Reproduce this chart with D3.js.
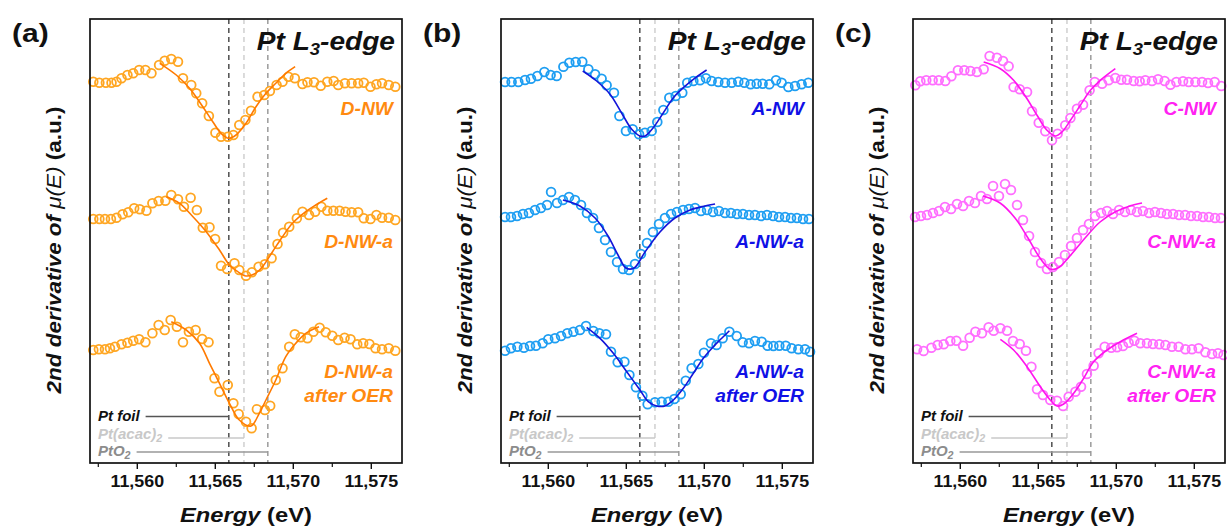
<!DOCTYPE html>
<html>
<head>
<meta charset="utf-8">
<script src="https://cdn.jsdelivr.net/npm/d3@7"></script>
<style>
  body { margin: 0; background: #fff; }
  svg text { font-family: "Liberation Sans", Arial, sans-serif; }
</style>
</head>
<body>
<div id="chart"></div>
<script>
// ---- data (energy in eV, 2nd derivative in a.u.) ----
const panelLetters = ['(a)', '(b)', '(c)'];
const sampleNames = [
  [['D-NW'], ['D-NW-a'], ['D-NW-a', 'after OER']],
  [['A-NW'], ['A-NW-a'], ['A-NW-a', 'after OER']],
  [['C-NW'], ['C-NW-a'], ['C-NW-a', 'after OER']]
];
const xTicks = [11560, 11565, 11570, 11575];
const xMinorTicks = [11557.5, 11562.5, 11567.5, 11572.5];
const refNames = ['Pt foil', 'Pt(acac)2', 'PtO2'];
const refEdges = [11565.9, 11566.87, 11568.4];
const curveOffsets = [38.1, 24.4, 11.3];

const dNW = [[11557.21,0.03],[11557.60,-0.07],[11558.02,-0.07],[11558.38,-0.07],[11558.70,0.03],[11559.02,0.37],[11559.40,0.70],[11559.77,0.87],[11560.15,1.20],[11560.55,1.20],[11560.94,0.87],[11561.43,1.70],[11561.79,2.13],[11562.21,2.30],[11562.64,2.03],[11562.96,0.37],[11563.49,-0.30],[11563.81,-1.13],[11564.19,-2.13],[11564.62,-3.40],[11565.04,-5.07],[11565.40,-5.47],[11565.83,-5.47],[11566.19,-5.30],[11566.57,-4.30],[11566.96,-3.80],[11567.32,-2.87],[11567.74,-1.47],[11568.17,-1.30],[11568.53,-0.90],[11568.96,-0.30],[11569.34,0.03],[11569.72,0.53],[11570.13,0.37],[11570.62,-0.20],[11570.94,-0.03],[11571.36,-0.03],[11571.79,-0.37],[11572.21,0.03],[11572.62,0.10],[11572.91,-0.30],[11573.34,-0.13],[11573.77,-0.13],[11574.19,-0.13],[11574.55,-0.07],[11574.98,-0.47],[11575.36,-0.23],[11575.72,-0.13],[11576.15,-0.30],[11576.57,-0.47]];
const dNWfit = [[11561.47,1.87],[11562.53,0.70],[11563.38,-0.63],[11564.23,-2.47],[11564.87,-3.97],[11565.40,-5.13],[11565.89,-5.63],[11566.36,-5.30],[11567.00,-4.13],[11567.64,-2.47],[11568.28,-1.13],[11568.91,-0.13],[11569.55,0.87],[11570.15,1.53]];

const dNWa = [[11557.21,0],[11557.60,0],[11557.96,0],[11558.34,0],[11558.70,0.13],[11559.09,0.47],[11559.45,0.67],[11559.83,1.07],[11560.19,0.97],[11560.62,0.83],[11561.00,1.57],[11561.40,1.80],[11561.83,1.83],[11562.21,2.40],[11562.64,1.97],[11563.02,1.23],[11563.45,2.13],[11563.85,0.90],[11564.23,-0.87],[11564.66,-0.83],[11565.02,-2.00],[11565.40,-4.67],[11565.79,-5.00],[11566.26,-4.43],[11566.57,-5.10],[11567.00,-5.67],[11567.38,-5.33],[11567.81,-4.77],[11568.21,-4.53],[11568.64,-3.93],[11569.02,-2.50],[11569.38,-1.37],[11569.77,-0.77],[11570.26,0.07],[11570.62,0.73],[11571.04,0.40],[11571.43,0.73],[11571.83,1.23],[11572.21,0.83],[11572.60,0.83],[11573.00,0.83],[11573.38,0.73],[11573.77,0.67],[11574.19,0.67],[11574.55,0.07],[11574.98,0],[11575.36,0.40],[11575.72,0.13],[11576.15,0.13],[11576.57,-0.10]];
const dNWaFit = [[11561.89,2.23],[11562.74,1.57],[11563.60,0.23],[11564.45,-1.27],[11565.30,-3.10],[11565.94,-4.60],[11566.47,-5.27],[11567.00,-5.70],[11567.53,-5.50],[11568.06,-4.77],[11568.70,-3.27],[11569.34,-1.77],[11569.98,-0.43],[11570.83,0.73],[11571.47,1.40],[11572.21,2.07]];

const dNWaOER = [[11557.21,0],[11557.57,0.07],[11557.96,0.07],[11558.28,0.17],[11558.60,0.33],[11559.02,0.57],[11559.40,0.73],[11559.77,0.93],[11560.15,1.07],[11560.55,0.77],[11561.00,1.67],[11561.40,2.50],[11561.79,2.00],[11562.17,3.00],[11562.57,2.33],[11562.96,0.77],[11563.34,1.83],[11563.77,2.00],[11564.19,1.10],[11564.60,0.77],[11564.98,-2.83],[11565.30,-4.17],[11565.83,-3.50],[11566.19,-5.33],[11566.53,-6.40],[11567.00,-7.17],[11567.36,-7.83],[11567.70,-5.93],[11568.21,-6.00],[11568.55,-5.57],[11568.91,-3.00],[11569.34,-1.83],[11569.77,0.33],[11570.13,1.57],[11570.51,1.27],[11570.94,1.17],[11571.32,1.83],[11571.72,2.23],[11572.11,1.77],[11572.53,1.43],[11572.91,1.00],[11573.32,1.23],[11573.70,1.07],[11574.13,0.57],[11574.51,0.67],[11574.91,0.60],[11575.30,0.17],[11575.72,0.07],[11576.15,0.17],[11576.57,-0.07]];
const dNWaOERfit = [[11562.21,2.83],[11563.17,2.00],[11564.02,0.67],[11564.66,-1.33],[11565.30,-3.33],[11565.94,-5.33],[11566.57,-7.00],[11567.32,-7.60],[11567.85,-6.33],[11568.28,-5.00],[11568.91,-3.00],[11569.55,-0.67],[11570.19,0.67],[11570.83,1.67],[11571.68,2.33]];

const aNW = [[11557.26,0],[11557.68,0],[11558.11,0],[11558.54,0.20],[11558.92,0.33],[11559.33,0.60],[11559.78,1.00],[11560.18,0.70],[11560.57,0.60],[11561.00,1.53],[11561.38,1.93],[11561.79,2.00],[11562.21,2.03],[11562.60,1.27],[11563.03,0.77],[11563.45,0.33],[11563.77,-0.33],[11564.24,-1.07],[11564.59,-3.40],[11565.01,-4.90],[11565.44,-4.73],[11565.85,-5.23],[11566.23,-5.07],[11566.66,-4.90],[11567.02,-4.00],[11567.41,-2.80],[11567.79,-1.57],[11568.20,-1.40],[11568.62,-1.07],[11568.94,-0.07],[11569.33,0.10],[11569.76,0.17],[11570.14,0.37],[11570.50,0.10],[11570.93,0],[11571.36,-0.07],[11571.79,-0.07],[11572.21,0.03],[11572.60,-0.07],[11573.00,-0.23],[11573.39,-0.17],[11573.77,-0.17],[11574.20,-0.23],[11574.63,0.17],[11574.99,-0.07],[11575.42,-0.50],[11575.85,-0.40],[11576.27,-0.23],[11576.70,-0.07]];
const aNWfit = [[11562.24,1.10],[11563.13,0.10],[11563.99,-1.23],[11564.84,-3.40],[11565.38,-4.73],[11565.91,-5.40],[11566.23,-5.40],[11566.76,-4.57],[11567.41,-3.07],[11568.05,-1.57],[11568.69,-0.57],[11569.33,0.27],[11570.18,1.20]];

const aNWa = [[11557.26,0.2],[11557.64,0.2],[11558.03,0.3],[11558.41,0.5],[11558.79,0.6],[11559.18,0.9],[11559.56,1.1],[11559.95,1.4],[11560.21,2.7],[11560.59,1.6],[11560.97,1.9],[11561.36,2.2],[11561.74,1.9],[11562.13,1.4],[11562.51,0.6],[11562.90,0.1],[11563.28,-0.9],[11563.67,-2.1],[11564.05,-3.3],[11564.44,-4.3],[11564.82,-5.0],[11565.21,-5.1],[11565.59,-4.5],[11565.97,-3.5],[11566.36,-2.4],[11566.74,-1.3],[11567.13,-0.5],[11567.51,0.1],[11567.90,0.5],[11568.28,0.7],[11568.67,0.9],[11569.05,1.0],[11569.44,1.1],[11569.82,0.8],[11570.21,0.9],[11570.59,0.7],[11570.97,0.8],[11571.36,0.6],[11571.74,0.6],[11572.13,0.5],[11572.51,0.5],[11572.90,0.4],[11573.28,0.4],[11573.67,0.3],[11574.05,0.4],[11574.44,0.3],[11574.82,0.2],[11575.21,0.2],[11575.59,0.1],[11575.97,0.1],[11576.36,0],[11576.74,0]];
const aNWaFit = [[11560.97,1.9],[11562.06,1.3],[11563.03,0.1],[11563.86,-1.7],[11564.50,-3.6],[11565.01,-4.9],[11565.53,-4.9],[11566.23,-3.3],[11567.19,-1.3],[11568.15,0.1],[11569.12,0.9],[11570.08,1.3],[11570.72,1.5]];

const aNWaOER = [[11557.26,-0.07],[11557.64,0.17],[11558.05,0.33],[11558.47,0.23],[11558.86,0.40],[11559.24,0.43],[11559.67,0.67],[11560.03,1.07],[11560.46,1.17],[11560.85,1.40],[11561.25,1.67],[11561.64,1.83],[11562.06,2.00],[11562.45,2.40],[11562.92,1.90],[11563.30,1.67],[11563.73,1.57],[11564.05,-0.17],[11564.48,-1.23],[11564.91,-1.17],[11565.23,-2.50],[11565.65,-3.73],[11566.06,-4.57],[11566.40,-5.43],[11566.87,-5.23],[11567.30,-5.17],[11567.73,-5.17],[11568.11,-4.90],[11568.52,-4.43],[11568.84,-3.07],[11569.22,-1.83],[11569.65,-1.40],[11570.01,-0.27],[11570.46,0.67],[11570.82,0.50],[11571.21,1.17],[11571.64,1.83],[11572.11,1.40],[11572.49,0.77],[11572.90,0.67],[11573.28,0.90],[11573.71,0.83],[11574.09,0.43],[11574.46,0.40],[11574.84,0.43],[11575.25,0.43],[11575.63,0.17],[11576.06,0.07],[11576.49,0.07],[11576.81,-0.17]];
const aNWaOERfit = [[11562.49,2.27],[11563.35,1.17],[11564.20,-0.33],[11565.06,-2.17],[11565.91,-4.00],[11566.44,-5.17],[11566.98,-5.60],[11567.51,-5.60],[11568.05,-5.00],[11568.69,-3.83],[11569.33,-2.33],[11569.97,-0.83],[11570.61,0.33],[11571.15,1.17],[11571.64,1.93]];

const cNW = [[11557.15,-0.33],[11557.47,0.07],[11557.85,0.17],[11558.26,0.17],[11558.65,0.17],[11559.07,0.10],[11559.46,0.57],[11559.88,1.17],[11560.29,1.17],[11560.68,1.10],[11561.10,1.00],[11561.53,1.27],[11561.91,2.60],[11562.38,2.43],[11562.77,2.10],[11563.13,1.57],[11563.45,-0.50],[11563.84,-0.73],[11564.31,-1.00],[11564.63,-2.93],[11565.06,-4.07],[11565.48,-4.93],[11565.91,-5.83],[11566.27,-5.17],[11566.76,-4.33],[11567.09,-3.60],[11567.51,-2.67],[11567.90,-2.27],[11568.32,-0.83],[11568.65,0],[11569.12,-0.17],[11569.54,0.17],[11569.97,0.40],[11570.35,0.23],[11570.72,0.23],[11571.15,0.10],[11571.53,0.07],[11571.89,0.17],[11572.32,0.10],[11572.71,0.27],[11573.13,0.10],[11573.50,-0.27],[11573.88,0],[11574.31,0.07],[11574.67,0],[11575.10,0],[11575.53,0],[11575.91,-0.10],[11576.34,0],[11576.76,-0.40]];
const cNWfit = [[11561.53,2.00],[11562.60,1.33],[11563.45,0.17],[11564.31,-1.67],[11564.95,-3.33],[11565.59,-4.83],[11566.12,-5.40],[11566.55,-5.00],[11567.09,-3.83],[11567.73,-2.33],[11568.37,-0.83],[11569.01,0.17],[11569.97,1.33]];

const cNWa = [[11557.13,0.2],[11557.51,0.3],[11557.90,0.4],[11558.28,0.6],[11558.67,0.8],[11559.05,1.2],[11559.44,1.0],[11559.82,1.5],[11560.21,1.3],[11560.59,1.8],[11560.97,1.6],[11561.36,2.3],[11561.74,2.0],[11562.13,3.3],[11562.51,2.3],[11562.90,3.5],[11563.28,2.9],[11563.67,1.4],[11564.05,-0.1],[11564.44,-1.7],[11564.82,-3.3],[11565.21,-4.4],[11565.59,-5.0],[11565.97,-4.8],[11566.36,-4.3],[11566.74,-3.6],[11567.13,-2.7],[11567.51,-1.9],[11567.90,-1.1],[11568.28,-0.5],[11568.67,0.3],[11569.05,0.6],[11569.44,0.8],[11569.82,0.5],[11570.21,0.9],[11570.59,0.7],[11570.97,0.9],[11571.36,0.7],[11571.74,0.8],[11572.13,0.6],[11572.51,0.7],[11572.90,0.6],[11573.28,0.5],[11573.67,0.5],[11574.05,0.4],[11574.44,0.4],[11574.82,0.3],[11575.21,0.3],[11575.59,0.2],[11575.97,0.2],[11576.36,0.1],[11576.74,0.1]];
const cNWaFit = [[11561.49,2.3],[11562.58,1.6],[11563.54,0.1],[11564.37,-1.9],[11565.14,-3.9],[11565.78,-5.0],[11566.29,-4.9],[11567.06,-3.7],[11568.03,-1.9],[11568.99,-0.3],[11569.95,0.7],[11570.91,1.3],[11571.68,1.6]];

const cNWaOER = [[11557.26,0.07],[11557.68,-0.10],[11558.18,0.23],[11558.58,0.50],[11558.97,0.57],[11559.39,0.90],[11559.78,0.93],[11560.21,0.43],[11560.63,1.23],[11561.00,1.83],[11561.42,1.67],[11561.85,2.27],[11562.17,1.93],[11562.60,2.17],[11563.03,1.93],[11563.41,0.90],[11563.84,0.60],[11564.24,-0.07],[11564.59,-1.67],[11564.95,-3.93],[11565.33,-4.50],[11565.80,-5.00],[11566.23,-5.07],[11566.62,-5.60],[11566.98,-4.67],[11567.41,-4.17],[11567.77,-3.67],[11568.15,-2.40],[11568.58,-1.57],[11568.90,-0.33],[11569.29,0.33],[11569.71,0.23],[11570.08,0.27],[11570.46,0.40],[11570.82,0.73],[11571.19,0.93],[11571.57,0.67],[11572.00,0.67],[11572.38,0.60],[11572.79,0.57],[11573.18,0.50],[11573.60,0.33],[11574.03,0.33],[11574.46,0.07],[11574.88,0.07],[11575.31,0.17],[11575.74,-0.23],[11576.17,-0.40],[11576.55,-0.33],[11576.91,-0.50]];
const cNWaOERfit = [[11562.60,1.07],[11563.45,0],[11564.31,-1.67],[11565.16,-3.67],[11565.80,-5.00],[11566.23,-5.60],[11566.66,-5.40],[11567.30,-4.33],[11567.94,-2.83],[11568.58,-1.17],[11569.44,0],[11570.29,0.83],[11571.36,1.67]];

const panelSeries = [
  [[dNW, dNWfit], [dNWa, dNWaFit], [dNWaOER, dNWaOERfit]],
  [[aNW, aNWfit], [aNWa, aNWaFit], [aNWaOER, aNWaOERfit]],
  [[cNW, cNWfit], [cNWa, cNWaFit], [cNWaOER, cNWaOERfit]]
];

// ---- styling ----
const palette = [
  {dot: '#FFA622', fit: '#FF7A00', label: '#FF8A10'},
  {dot: '#1E9EF2', fit: '#1414D8', label: '#1010E6'},
  {dot: '#FF6EFF', fit: '#FF14EE', label: '#FF22F2'}
];
const refColors = ['#333333', '#c8c8c8', '#8c8c8c'];
const refLineColors = ['#555555', '#c8c8c8', '#999999'];

const width = 1227, height = 531;
const panelLefts = [90, 501, 913];
const plotW = 312, plotTop = 19, plotBottom = 463;

// the figure's lettering is a little wider than Arial: stretch text horizontally
function stretch(sel, k) {
  sel.each(function() {
    const len = this.getComputedTextLength();
    d3.select(this).attr('textLength', len * k).attr('lengthAdjust', 'spacingAndGlyphs');
  });
  return sel;
}

const svg = d3.select('#chart').append('svg')
  .attr('width', width).attr('height', height);

const y = d3.scaleLinear().domain([0, 44.4]).range([plotBottom, plotTop]);

panelLetters.forEach((letter, p) => {
  const left = panelLefts[p];
  const x = d3.scaleLinear().domain([11557, 11577]).range([left, left + plotW]);
  const g = svg.append('g');
  const col = palette[p];

  // reference edge lines
  refEdges.forEach((e, i) => {
    g.append('line')
      .attr('x1', x(e)).attr('x2', x(e))
      .attr('y1', plotTop).attr('y2', plotBottom)
      .attr('stroke', refColors[i]).attr('stroke-width', 1.3)
      .attr('stroke-dasharray', '5,4');
  });

  // spectra
  panelSeries[p].forEach((pair, k) => {
    const off = curveOffsets[k];
    g.append('g').selectAll('circle')
      .data(pair[0])
      .enter().append('circle')
      .attr('cx', d => x(d[0]))
      .attr('cy', d => y(d[1] + off))
      .attr('r', 4.4)
      .attr('fill', 'none')
      .attr('stroke', col.dot)
      .attr('stroke-width', 1.8);

    const line = d3.line()
      .x(d => x(d[0]))
      .y(d => y(d[1] + off))
      .curve(d3.curveCatmullRom);
    g.append('path')
      .datum(pair[1])
      .attr('d', line)
      .attr('fill', 'none')
      .attr('stroke', col.fit)
      .attr('stroke-width', 1.6);
  });

  // sample labels
  const labelBase = [115, 248, 378];
  sampleNames[p].forEach((lines, k) => {
    lines.forEach((txt, j) => {
      const t = g.append('text')
        .attr('x', left + plotW - 9)
        .attr('y', labelBase[k] + j * 24)
        .attr('text-anchor', 'end')
        .attr('font-size', 17.5).attr('font-weight', 'bold').attr('font-style', 'italic')
        .attr('fill', col.label)
        .text(txt);
      stretch(t, 1.1);
    });
  });

  // reference legend
  const legY = [421, 439, 456];
  const lineY = [416.5, 438, 452];
  refNames.forEach((name, i) => {
    const t = g.append('text')
      .attr('x', left + 8).attr('y', legY[i])
      .attr('font-size', 14).attr('font-weight', 'bold').attr('font-style', 'italic')
      .attr('fill', i === 0 ? '#111' : refColors[i]);
    if (name.endsWith('2')) {
      t.append('tspan').text(name.slice(0, -1));
      t.append('tspan').attr('font-size', 10).attr('dy', 3).text('2');
    } else {
      t.text(name);
    }
    stretch(t, 1.07);
    const tw = +t.attr('textLength');
    g.append('line')
      .attr('x1', left + 8 + tw + 6).attr('x2', x(refEdges[i]))
      .attr('y1', lineY[i]).attr('y2', lineY[i])
      .attr('stroke', refLineColors[i]).attr('stroke-width', 1.3);
  });

  // frame
  g.append('rect')
    .attr('x', left).attr('y', plotTop)
    .attr('width', plotW).attr('height', plotBottom - plotTop)
    .attr('fill', 'none').attr('stroke', '#111').attr('stroke-width', 1.7);

  // x axis
  const ax = g.append('g').attr('transform', `translate(0,${plotBottom})`)
    .call(d3.axisBottom(x).tickValues(xTicks).tickFormat(d3.format(',')).tickSize(6).tickPadding(6));
  ax.select('.domain').remove();
  ax.selectAll('.tick line').attr('stroke', '#111').attr('stroke-width', 1.4);
  ax.selectAll('text')
    .attr('font-family', '"Liberation Sans", Arial, sans-serif')
    .attr('font-size', 17).attr('font-weight', 'bold').attr('fill', '#111');
  stretch(ax.selectAll('text'), 1.05);
  const axm = g.append('g').attr('transform', `translate(0,${plotBottom})`)
    .call(d3.axisBottom(x).tickValues(xMinorTicks).tickFormat('').tickSize(4));
  axm.select('.domain').remove();
  axm.selectAll('.tick line').attr('stroke', '#111').attr('stroke-width', 1.2);

  // x title
  const xt = g.append('text')
    .attr('x', left + plotW / 2).attr('y', 522)
    .attr('text-anchor', 'middle')
    .attr('font-size', 21).attr('font-weight', 'bold').attr('fill', '#111');
  xt.append('tspan').attr('font-style', 'italic').text('Energy');
  xt.append('tspan').text(' (eV)');
  stretch(xt, 1.13);

  // y title
  const yt = g.append('text')
    .attr('transform', `translate(${left - 29},250) rotate(-90)`)
    .attr('text-anchor', 'middle')
    .attr('font-size', 21).attr('font-weight', 'bold').attr('fill', '#111');
  yt.append('tspan').attr('font-style', 'italic').text('2nd derivative of ');
  yt.append('tspan').attr('font-style', 'italic').attr('font-weight', 'normal').text('\u03bc(E)');
  yt.append('tspan').text(' (a.u.)');
  stretch(yt, 1.07);

  // edge title
  const et = g.append('text')
    .attr('x', left + plotW - 7).attr('y', 50)
    .attr('text-anchor', 'end')
    .attr('font-size', 26).attr('font-weight', 'bold').attr('font-style', 'italic')
    .attr('fill', '#111');
  et.append('tspan').text('Pt L');
  et.append('tspan').attr('font-size', 17).attr('dy', 5).text('3');
  et.append('tspan').attr('dy', -5).text('-edge');
  stretch(et, 1.08);

  // panel letter
  const pl = g.append('text')
    .attr('x', left - 78).attr('y', 42)
    .attr('font-size', 25).attr('font-weight', 'bold').attr('fill', '#111')
    .text(letter);
  stretch(pl, 1.2);
});
</script>
</body>
</html>
